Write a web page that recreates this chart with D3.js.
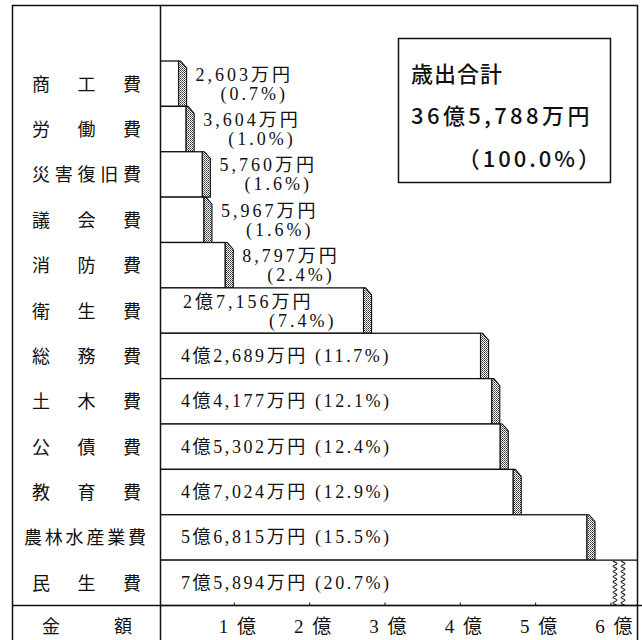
<!DOCTYPE html>
<html>
<head>
<meta charset="utf-8">
<script src="https://cdn.jsdelivr.net/npm/d3@7"></script>
<style>
  body { margin: 0; background: #fff; }
  svg { display: block; }
  .mincho { font-family: "Liberation Serif", "Noto Sans CJK JP", serif; fill: #111; }
  .gothic { font-family: "Noto Sans CJK JP", sans-serif; fill: #111; }
</style>
</head>
<body>
<svg id="chart" width="642" height="640"></svg>
<script>
'use strict';

// 歳出 (万円) and share (%)
const categories = ["商工費", "労働費", "災害復旧費", "議会費", "消防費", "衛生費",
  "総務費", "土木費", "公債費", "教育費", "農林水産業費", "民生費"];
const amounts = [2603, 3604, 5760, 5967, 8797, 27156, 42689, 44177, 45302, 47024, 56815, 75894];
const shares = [0.7, 1.0, 1.6, 1.6, 2.4, 7.4, 11.7, 12.1, 12.4, 12.9, 15.5, 20.7];
const axisTicks = [1, 2, 3, 4, 5, 6];   // 億
const totalAmount = 365788;
const totalShare = 100.0;

const svg = d3.select("#chart");

const frame = {left: 12.5, right: 637.5, top: 5.5, bottom: 640, divider: 160.5, axisY: 605.5};
const HATCH = 8;

// 1億 = 10000万円
let x = d3.scaleLinear().domain([0, 60000]).range([159, 611]);
let y = d3.scaleBand().domain(categories).range([61, frame.axisY]);

let fmtYen = function (v) {
  let oku = Math.floor(v / 10000);
  let man = d3.format(",")(v % 10000);
  return (oku > 0 ? oku + "億" : "") + man + "万円";
};
let fmtPct = function (p) {
  return "(" + d3.format(".1f")(p) + "%)";
};

// dotted fill for the side of each bar
let defs = svg.append("defs");
let pat = defs.append("pattern")
  .attr("id", "dots").attr("patternUnits", "userSpaceOnUse")
  .attr("width", 2).attr("height", 2);
pat.append("rect").attr("width", 2).attr("height", 2).attr("fill", "#fff");
pat.append("rect").attr("width", 1).attr("height", 1).attr("fill", "#333");
pat.append("rect").attr("x", 1).attr("y", 1).attr("width", 1).attr("height", 1).attr("fill", "#666");

defs.append("clipPath").attr("id", "plotClip")
  .append("rect")
  .attr("x", frame.divider).attr("y", 0)
  .attr("width", frame.right - frame.divider).attr("height", frame.bottom);

let data = categories.map(function (c, i) {
  return {name: c, value: amounts[i], share: shares[i]};
});

// bars
let plot = svg.append("g").attr("clip-path", "url(#plotClip)");

let bars = plot.selectAll("g.bar")
  .data(data)
  .enter().append("g")
  .attr("class", "bar");

bars.append("rect")
  .attr("x", x(0))
  .attr("y", function (d) { return y(d.name); })
  .attr("width", function (d) { return Math.min(x(d.value), frame.right + 5) - x(0); })
  .attr("height", y.bandwidth())
  .attr("fill", "#fff")
  .attr("stroke", "#111")
  .attr("stroke-width", 1.3);

// side strip (not for the broken bar)
bars.filter(function (d) { return x(d.value) < frame.right; })
  .append("path")
  .attr("d", function (d) {
    let x0 = x(d.value), t = y(d.name), b = t + y.bandwidth();
    return "M" + x0 + "," + t + "L" + (x0 + 2) + "," + t +
      "L" + (x0 + HATCH) + "," + (t + 7) + "L" + (x0 + HATCH) + "," + b + "L" + x0 + "," + b + "Z";
  })
  .attr("fill", "url(#dots)")
  .attr("stroke", "#111")
  .attr("stroke-width", 1.1);

// wavy break on the largest bar
let last = data[data.length - 1];
let waveTop = y(last.name) + 1, waveBottom = y(last.name) + y.bandwidth();
[615, 623].forEach(function (wx) {
  let pts = [];
  for (let yy = waveTop, k = 0; yy <= waveBottom; yy += 2.6, k++) {
    pts.push([wx + (k % 2 === 0 ? -2 : 2), yy]);
  }
  svg.append("path")
    .attr("d", d3.line().curve(d3.curveCatmullRom)(pts))
    .attr("fill", "none")
    .attr("stroke", "#222")
    .attr("stroke-width", 1.1);
});

// value labels
data.forEach(function (d) {
  let cy = y(d.name) + y.bandwidth() / 2;
  let g = svg.append("g").attr("class", "mincho").style("font-size", "18px").style("letter-spacing", "3px");
  if (d.value < 10000) {
    let lx = x(d.value) + HATCH + 9;
    g.append("text").attr("x", lx).attr("y", cy - 3).text(fmtYen(d.value));
    g.append("text").attr("x", lx + 25).attr("y", cy + 16).text(fmtPct(d.share));
  } else if (d.value < 30000) {
    g.append("text").attr("x", x(0) + 24).attr("y", cy - 3).text(fmtYen(d.value));
    g.append("text").attr("x", x(0) + 110).attr("y", cy + 16).text(fmtPct(d.share));
  } else {
    g.append("text").attr("x", x(0) + 22).attr("y", cy + 6)
      .style("letter-spacing", "2.6px")
      .text(fmtYen(d.value) + "  " + fmtPct(d.share));
  }
});

// category labels in the left column
svg.append("g").attr("class", "mincho").style("font-size", "18px")
  .selectAll("text")
  .data(data)
  .enter().append("text")
  .attr("x", function (d) { return d.name.length > 5 ? 24 : 32; })
  .attr("y", function (d) { return y(d.name) + y.bandwidth() / 2 + 7; })
  .attr("textLength", function (d) { return d.name.length > 5 ? 122 : 109; })
  .attr("lengthAdjust", "spacing")
  .text(function (d) { return d.name; });

// frame and grid lines
let lineStyle = function (sel) {
  return sel.attr("stroke", "#111").attr("stroke-width", 1.5).attr("fill", "none");
};
lineStyle(svg.append("path")
  .attr("d", "M" + frame.left + "," + frame.bottom + "V" + frame.top + "H" + frame.right + "V" + frame.bottom));
lineStyle(svg.append("line")
  .attr("x1", frame.divider).attr("x2", frame.divider)
  .attr("y1", frame.top).attr("y2", frame.bottom));
lineStyle(svg.append("line")
  .attr("x1", frame.left).attr("x2", 642)
  .attr("y1", frame.axisY).attr("y2", frame.axisY));

// axis
let axis = svg.append("g");
axis.selectAll("line")
  .data(axisTicks)
  .enter().append("line")
  .attr("x1", function (d) { return x(d * 10000); })
  .attr("x2", function (d) { return x(d * 10000); })
  .attr("y1", frame.axisY - 3).attr("y2", frame.axisY)
  .attr("stroke", "#111").attr("stroke-width", 1);
axis.append("g").attr("class", "mincho").style("font-size", "19px").style("letter-spacing", "2px")
  .selectAll("text")
  .data(axisTicks)
  .enter().append("text")
  .attr("x", function (d) { return x(d * 10000) + 4; })
  .attr("y", 633)
  .attr("text-anchor", "middle")
  .text(function (d) { return d + " 億"; });

svg.append("text").attr("class", "mincho").style("font-size", "18px")
  .attr("x", 42).attr("y", 633)
  .attr("textLength", 90).attr("lengthAdjust", "spacing")
  .text("金額");

// total box
let box = svg.append("g");
box.append("rect")
  .attr("x", 398.5).attr("y", 38.5).attr("width", 212).attr("height", 144)
  .attr("fill", "#fff").attr("stroke", "#111").attr("stroke-width", 1.5);
let bt = box.append("g").attr("class", "gothic").style("font-size", "22px").style("font-weight", 500);
bt.append("text").attr("x", 411).attr("y", 82).style("letter-spacing", "1px").text("歳出合計");
bt.append("text").attr("x", 411).attr("y", 124).style("letter-spacing", "3.4px").text(fmtYen(totalAmount));
bt.append("text").attr("x", 603).attr("y", 167).attr("text-anchor", "end").style("letter-spacing", "3px")
  .text("（" + d3.format(".1f")(totalShare) + "%）");
</script>
</body>
</html>
